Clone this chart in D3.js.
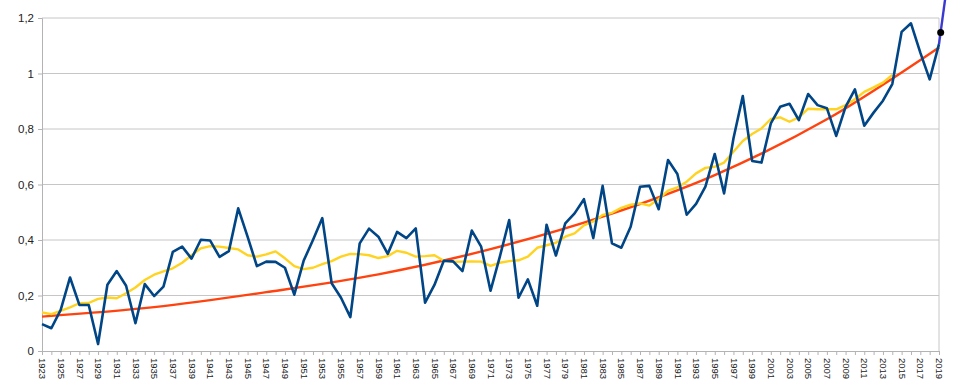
<!DOCTYPE html>
<html>
<head>
<meta charset="utf-8">
<script src="https://cdn.jsdelivr.net/npm/d3@7"></script>
<style>
    body { margin: 0; background: #fff; }
    svg { display: block; font-family: "Liberation Sans", Arial, sans-serif; }
</style>
</head>
<body>
<div id="chart"></div>
<script>
// years on the category axis
const firstYear = 1923;
const lastYear = 2019;

// yearly anomaly values (blue line)
const anomaly = [
    0.097, 0.082, 0.148, 0.265, 0.166, 0.166, 0.025, 0.239, 0.288, 0.235,
    0.100, 0.241, 0.198, 0.232, 0.357, 0.376, 0.333, 0.401, 0.398, 0.339,
    0.360, 0.514, 0.412, 0.306, 0.322, 0.321, 0.300, 0.203, 0.325, 0.400,
    0.479, 0.244, 0.192, 0.122, 0.388, 0.441, 0.412, 0.350, 0.429, 0.407,
    0.442, 0.174, 0.238, 0.325, 0.323, 0.288, 0.434, 0.376, 0.217, 0.340,
    0.472, 0.192, 0.258, 0.163, 0.455, 0.344, 0.460, 0.496, 0.547, 0.407,
    0.595, 0.388, 0.372, 0.448, 0.592, 0.595, 0.511, 0.688, 0.638, 0.491,
    0.530, 0.592, 0.710, 0.568, 0.766, 0.919, 0.685, 0.679, 0.820, 0.880,
    0.891, 0.832, 0.926, 0.886, 0.875, 0.775, 0.880, 0.943, 0.812, 0.859,
    0.902, 0.962, 1.150, 1.181, 1.075, 0.979, 1.106
];

// moving average (yellow line), 1923..2014
const movingAvg = [
    0.139, 0.133, 0.145, 0.157, 0.172, 0.173, 0.188, 0.193, 0.190, 0.208,
    0.229, 0.256, 0.275, 0.287, 0.298, 0.318, 0.345, 0.370, 0.378, 0.376,
    0.371, 0.366, 0.345, 0.340, 0.348, 0.359, 0.334, 0.306, 0.295, 0.300,
    0.313, 0.324, 0.340, 0.350, 0.349, 0.345, 0.335, 0.342, 0.361, 0.354,
    0.340, 0.342, 0.345, 0.325, 0.321, 0.322, 0.323, 0.322, 0.307, 0.318,
    0.324, 0.327, 0.340, 0.372, 0.381, 0.390, 0.412, 0.424, 0.453, 0.467,
    0.490, 0.498, 0.516, 0.527, 0.532, 0.524, 0.547, 0.578, 0.590, 0.610,
    0.640, 0.660, 0.664, 0.679, 0.718, 0.757, 0.782, 0.802, 0.836, 0.842,
    0.826, 0.842, 0.873, 0.871, 0.871, 0.871, 0.886, 0.907, 0.934, 0.950,
    0.967, 0.995
];

// trend curve (red), read every 12 years
const trendYears = [1923, 1935, 1947, 1959, 1971, 1983, 1995, 2007, 2019];
const trendValues = [0.124, 0.158, 0.212, 0.276, 0.367, 0.484, 0.634, 0.835, 1.094];

// short blue extension past the last year and the black marker on it
const extYears = [2019, 2020];
const extValues = [1.106, 1.353];
const markerYear = [2019.18];
const markerValue = [1.148];

const yTicks = [0, 0.2, 0.4, 0.6, 0.8, 1, 1.2];

const width = 960, height = 391;
const margin = { top: 18, right: 21, bottom: 40, left: 42 };

const years = d3.range(firstYear, lastYear + 1);

const svg = d3.select("#chart").append("svg")
    .attr("width", width)
    .attr("height", height);

const x = d3.scaleLinear()
    .domain([firstYear, lastYear])
    .range([margin.left, width - margin.right]);

const y = d3.scaleLinear()
    .domain([0, 1.2])
    .range([height - margin.bottom, margin.top]);

const fmt = d => String(d).replace(".", ",");

// horizontal grid lines
svg.append("g")
    .selectAll("line")
    .data(yTicks.slice(1))
    .enter().append("line")
    .attr("x1", x(firstYear)).attr("x2", x(lastYear))
    .attr("y1", d => y(d)).attr("y2", d => y(d))
    .attr("stroke", "#c6c6c6")
    .attr("stroke-width", 1);

// right edge of plot area
svg.append("line")
    .attr("x1", x(lastYear)).attr("x2", x(lastYear))
    .attr("y1", y(1.2)).attr("y2", y(0))
    .attr("stroke", "#c6c6c6");

// y axis
const yAxis = svg.append("g")
    .attr("transform", `translate(${x(firstYear)},0)`)
    .call(d3.axisLeft(y).tickValues(yTicks).tickFormat(fmt).tickSize(4).tickPadding(4));
yAxis.selectAll("path, line").attr("stroke", "#b3b3b3");
yAxis.selectAll("text")
    .attr("fill", "#222")
    .style("font-size", "11.5px")
    .style("font-family", "Liberation Sans, Arial, sans-serif");

// x axis, tick every year, label every second
const xAxis = svg.append("g")
    .attr("transform", `translate(0,${y(0)})`)
    .call(d3.axisBottom(x)
        .tickValues(years)
        .tickFormat(d => (d - firstYear) % 2 === 0 ? d : "")
        .tickSize(4)
        .tickSizeOuter(0));
xAxis.selectAll("path, line").attr("stroke", "#b3b3b3");
xAxis.selectAll("text")
    .attr("fill", "#222")
    .style("font-size", "9.5px")
    .style("font-family", "Liberation Sans, Arial, sans-serif")
    .attr("text-anchor", "start")
    .attr("transform", "rotate(90)")
    .attr("x", 7)
    .attr("y", 0)
    .attr("dy", "0.35em");

const lineOf = (xs, vs) => d3.line()
    .x((d, i) => x(xs[i]))
    .y(d => y(d))(vs);

// trend (red)
svg.append("path")
    .attr("d", d3.line()
        .x((d, i) => x(trendYears[i]))
        .y(d => y(d))
        .curve(d3.curveMonotoneX)(trendValues))
    .attr("fill", "none")
    .attr("stroke", "#ff420e")
    .attr("stroke-width", 2.4);

// moving average (yellow)
svg.append("path")
    .attr("d", lineOf(years, movingAvg))
    .attr("fill", "none")
    .attr("stroke", "#ffd320")
    .attr("stroke-width", 2.4)
    .attr("stroke-linejoin", "round");

// yearly values (dark blue)
svg.append("path")
    .attr("d", lineOf(years, anomaly))
    .attr("fill", "none")
    .attr("stroke", "#004586")
    .attr("stroke-width", 2.6)
    .attr("stroke-linejoin", "round");

// extension and marker
svg.append("path")
    .attr("d", lineOf(extYears, extValues))
    .attr("fill", "none")
    .attr("stroke", "#3a3ad0")
    .attr("stroke-width", 2.4);

svg.append("g")
    .selectAll("circle")
    .data(markerValue)
    .enter().append("circle")
    .attr("cx", (d, i) => x(markerYear[i]))
    .attr("cy", d => y(d))
    .attr("r", 3.5)
    .attr("fill", "#000");
</script>
</body>
</html>
